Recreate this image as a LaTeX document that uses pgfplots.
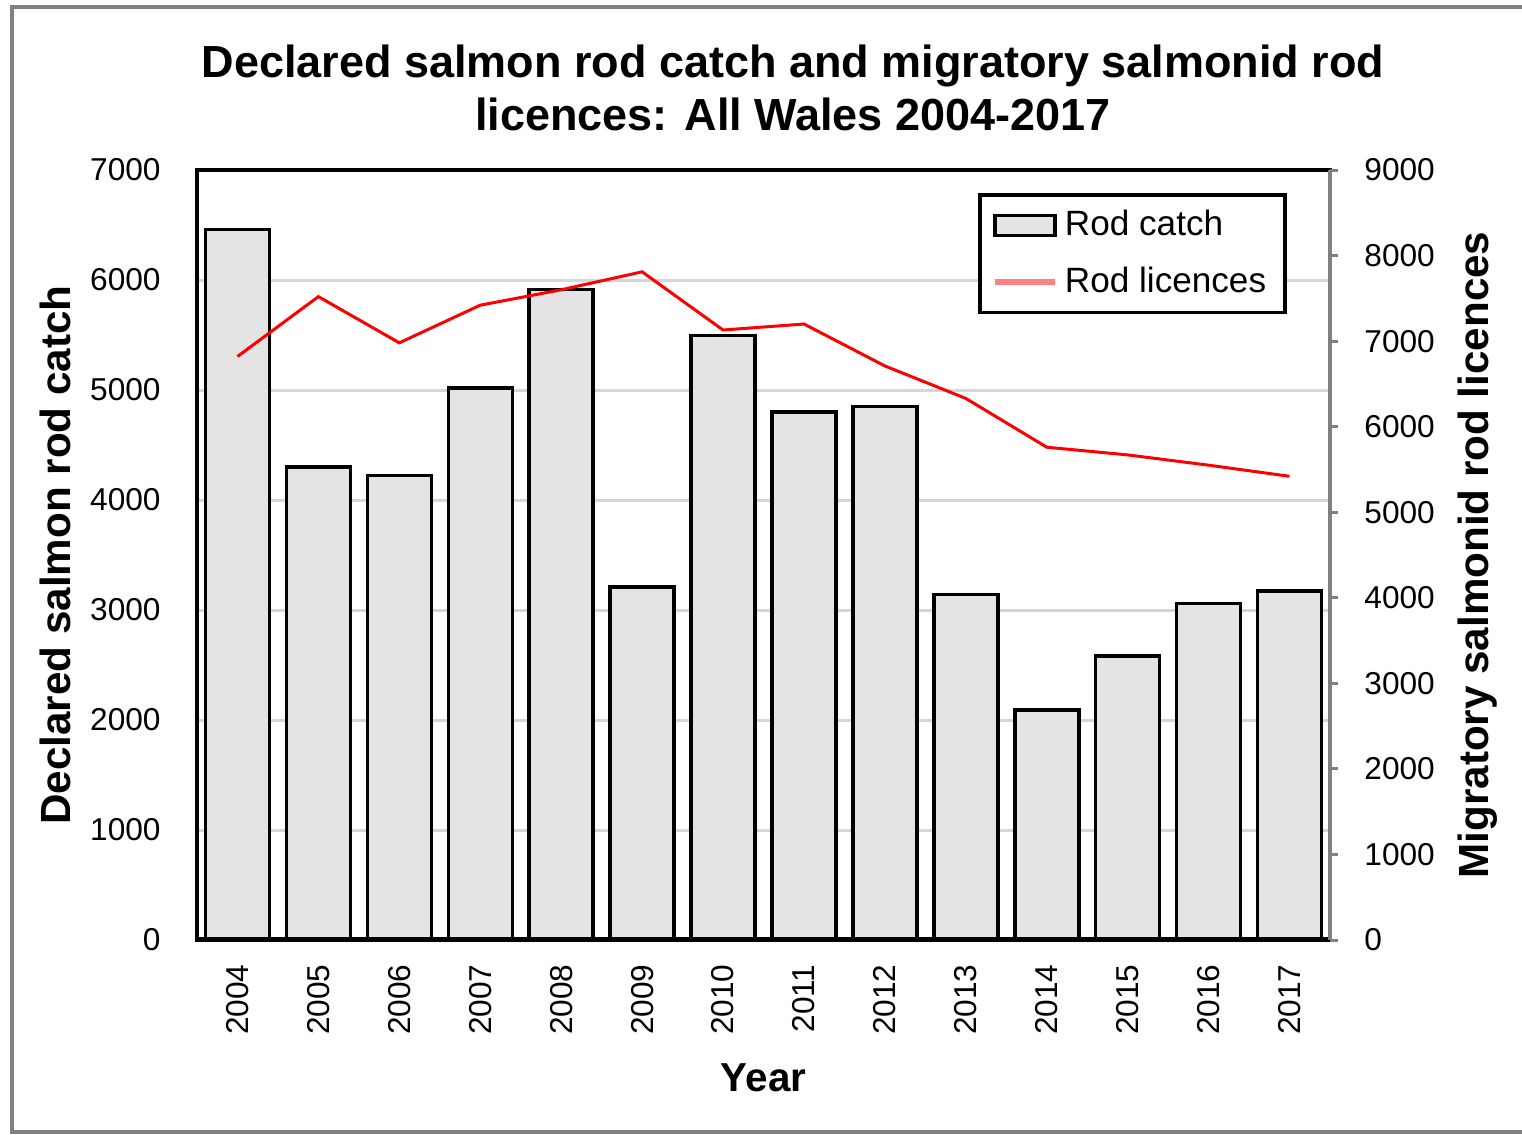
\documentclass[border=0pt]{standalone}
\usepackage{pgfplots}
\pgfplotsset{compat=1.18}
\usepackage{fontspec}
\setmainfont{Liberation Sans}
\definecolor{barfill}{HTML}{E4E4E4}
\definecolor{gridc}{HTML}{D6D6D6}
\definecolor{framec}{HTML}{808080}
\pgfplotstableread{
x catch lic
0 6460 6820
1 4300 7520
2 4225 6980
3 5020 7420
4 5915 7600
5 3210 7810
6 5495 7130
7 4800 7200
8 4850 6710
9 3140 6330
10 2090 5760
11 2580 5670
12 3060 5550
13 3175 5420
}\datatable
\begin{document}
\begin{tikzpicture}
\useasboundingbox (-19.7mm,-19.4mm) rectangle (132.5mm,94mm);
\draw[framec, line width=0.4mm] (132.5mm,-19.2mm) -- (-18.5mm,-19.2mm) -- (-18.5mm,93.3mm) -- (132.5mm,93.3mm);
\begin{axis}[
  name=main,
  scale only axis, width=113.3mm, height=77mm,
  xmin=-0.5, xmax=13.5, ymin=0, ymax=7000,
  axis lines=box,
  axis line style={black, line width=0.4mm},
  xtick={0,...,13},
  xticklabels={2004,2005,2006,2007,2008,2009,2010,2011,2012,2013,2014,2015,2016,2017},
  xticklabel style={rotate=90, anchor=east, yshift=0mm, xshift=-1.2mm},
  ytick={0,1000,...,7000},
  ytick pos=left, xtick pos=bottom,
  major tick length=0pt,
  yticklabel style={xshift=-2.4mm},
  ymajorgrids, major grid style={gridc, line width=0.3mm},
  tick label style={font=\fontsize{9}{11}\selectfont},
  /pgf/number format/assume math mode=true,
  scaled y ticks=false,
  yticklabel={\pgfmathprintnumber[1000 sep={}]{\tick}},
  ylabel={Declared salmon rod catch},
  ylabel style={at={(axis description cs:-0.125,0.5)}, anchor=center, font=\bfseries\fontsize{12}{14}\selectfont},
  xlabel={Year},
  xlabel style={at={(axis description cs:0.5,-0.179)}, anchor=center, font=\bfseries\fontsize{11.5}{13}\selectfont},
]
\addplot[ybar, bar width=6.4mm, fill=barfill, draw=black, line width=0.35mm] table[x=x, y=catch] {\datatable};
\draw[black, line width=0.55mm] (rel axis cs:0,0) -- (rel axis cs:1,0);
\end{axis}
\begin{axis}[
  scale only axis, width=113.3mm, height=77mm,
  xmin=-0.5, xmax=13.5, ymin=0, ymax=9000,
  axis x line=none,
  axis y line*=right,
  y axis line style={framec, line width=0.4mm, -},
  ytick={0,1000,...,9000},
  tick align=outside,
  major tick length=0.8mm,
  ytick style={framec, line width=0.3mm},
  yticklabel style={xshift=1.4mm},
  tick label style={font=\fontsize{9}{11}\selectfont},
  /pgf/number format/assume math mode=true,
  scaled y ticks=false,
  yticklabel={\pgfmathprintnumber[1000 sep={}]{\tick}},
  ylabel={Migratory salmonid rod licences},
  ylabel style={at={(axis description cs:1.1306,0.5)}, anchor=center, font=\bfseries\fontsize{12}{14}\selectfont},
  legend style={at={(axis description cs:0.962,0.970)}, anchor=north east,
    draw=black, line width=0.35mm, fill=white, font=\fontsize{10}{12}\selectfont,
    row sep=1.2mm, inner xsep=1.2mm, inner ysep=0.8mm},
  legend cell align=left,
]
\addlegendimage{area legend, fill=barfill, draw=black, line width=0.35mm}
\addlegendentry{Rod catch}
\addlegendimage{red!50, line width=0.6mm}
\addlegendentry{Rod licences}
\addplot[red, line width=0.3mm, forget plot] table[x=x, y=lic] {\datatable};
\end{axis}
\node[align=center, font=\bfseries\fontsize{12.8}{15.1}\selectfont] at (59.6mm,85.2mm) {Declared salmon rod catch and migratory salmonid rod\\licences: All Wales 2004-2017};
\end{tikzpicture}
\end{document}
